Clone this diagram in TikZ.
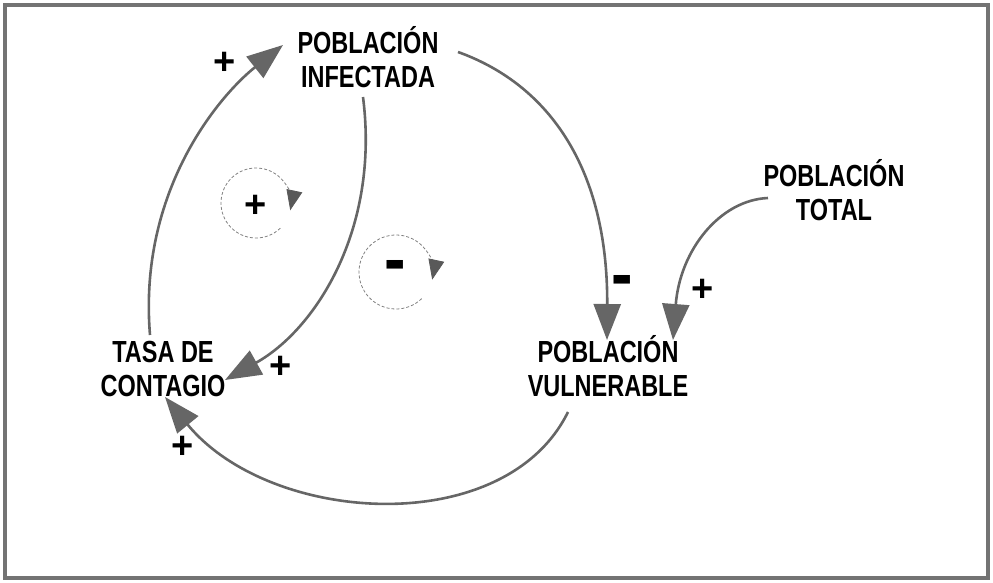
\documentclass[tikz,border=0pt]{standalone}
\usepackage{fontspec}
\setmainfont[FakeStretch=0.77]{Liberation Sans}
\newfontfamily\signfont{Liberation Sans}
\usetikzlibrary{arrows.meta,calc}
\begin{document}
\begin{tikzpicture}[x=1pt,y=-1pt,
  lbl/.style={align=center, font=\bfseries\fontsize{30.5}{34}\selectfont, inner sep=4pt},
  link/.style={draw=black!60, line width=2.6pt, -{Triangle[length=36pt,width=27pt]}},
  sign/.style={font=\signfont\bfseries\fontsize{38}{38}\selectfont, inner sep=0pt},
  minus/.style={font=\signfont\bfseries\fontsize{38}{38}\selectfont, inner sep=0pt},
  looparc/.style={draw=black!50, line width=0.8pt, dash pattern=on 3pt off 2pt,
    -{Triangle[length=20pt,width=16pt,color=black!65]}}]
\useasboundingbox (0,0) rectangle (993,583);
\draw[black!55, line width=4pt] (5,5) rectangle (988,578);

\node[lbl] (inf) at (368,57) {POBLACIÓN\\INFECTADA};
\node[lbl] (vul) at (608,366) {POBLACIÓN\\VULNERABLE};
\node[lbl] (tasa) at (163,369) {TASA DE\\CONTAGIO};
\node[lbl] (tot) at (834,190) {POBLACIÓN\\TOTAL};

% connectors
\draw[link] ($(tasa.center)+(-13,-34)$) .. controls (138,190) and (220,95) .. ($(inf.center)+(-85,-12)$);
\draw[link] ($(inf.center)+(-5,40)$) .. controls (380,230) and (315,330) .. ($(tasa.center)+(62,11)$);
\draw[link] ($(inf.center)+(90,-5)$) .. controls (550,85) and (608,170) .. ($(vul.center)+(-1,-26)$);
\draw[link] ($(tot.center)+(-66,8)$) .. controls (720,200) and (680,250) .. ($(vul.center)+(65,-26)$);
\draw[link] ($(vul.center)+(-40,46)$) .. controls (505,540) and (270,525) .. ($(tasa.center)+(2,28)$);

% polarity signs
\node[sign] (p1) at (225,63) {+};
\node[sign] (p2) at (281,367) {+};
\node[sign] (p3) at (183,447) {+};
\node[sign] (p4) at (703,290) {+};
\node[minus] (m1) at (622,287) {\scalebox{1.7}[1.9]{-}};

% loop markers
\draw[looparc] (256,203) ++(46:35) arc[start angle=46, end angle=372, radius=35];
\node[sign] (lp) at (256,206) {+};
\draw[looparc] (396,272) ++(46:37) arc[start angle=46, end angle=372, radius=37];
\node[minus] (lm) at (395,272) {\scalebox{1.7}[1.9]{-}};
\end{tikzpicture}
\end{document}
